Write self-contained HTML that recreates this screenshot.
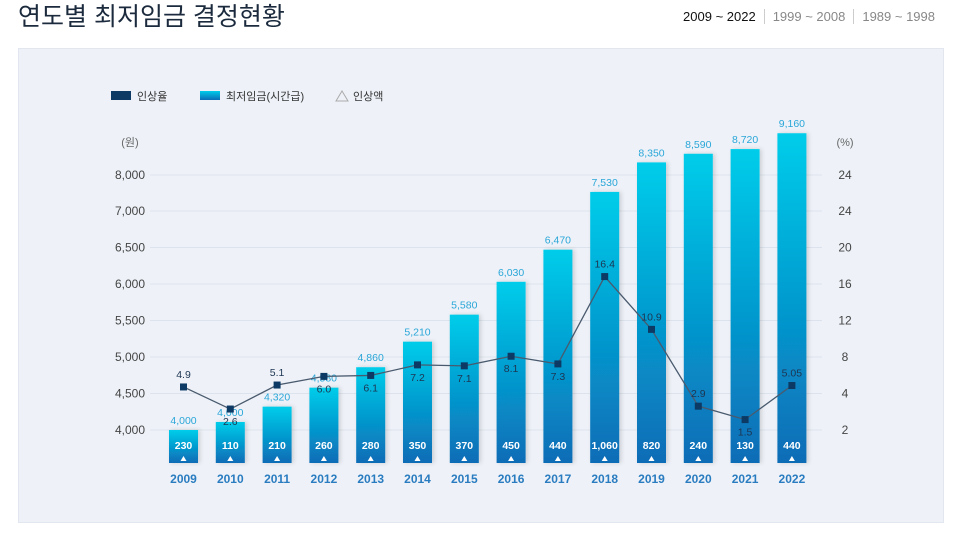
<!DOCTYPE html>
<html><head><meta charset="utf-8"><style>
body{margin:0;width:969px;height:533px;background:#fff;font-family:"Liberation Sans","Noto Sans CJK KR",sans-serif;overflow:hidden;position:relative}
.title{position:absolute;left:18px;top:0;font-size:25px;color:#1b2a3d;line-height:34px}
.tabs{position:absolute;right:26px;top:9px;font-size:13px;color:#888}
.tabs span{padding:0 8px;border-left:1px solid #ccc}
.tabs span:first-child{border:none;color:#111}
.panel{position:absolute;left:18px;top:48px;width:924px;height:473px;background:#eef2f8;border:1px solid #e2e7ef}
svg{position:absolute;left:0;top:0}
</style></head><body>
<div class="title">연도별 최저임금 결정현황</div>
<div class="tabs"><span>2009 ~ 2022</span><span>1999 ~ 2008</span><span>1989 ~ 1998</span></div>
<div class="panel"></div>
<svg id="c" width="969" height="533">
<defs>
<linearGradient id="bg" x1="0" y1="0" x2="0" y2="1"><stop offset="0" stop-color="#00cdea"/><stop offset="1" stop-color="#0a6cb6"/></linearGradient>
<filter id="sh" x="-30%" y="-10%" width="160%" height="120%"><feDropShadow dx="2" dy="0" stdDeviation="2" flood-color="#000" flood-opacity="0.15"/></filter>
</defs>
<g font-size="11" fill="#333">
<rect x="111" y="91" width="20" height="9" fill="#0d3a64"/><text x="137" y="100">인상율</text>
<rect x="200" y="91" width="20" height="9" fill="url(#bg)"/><text x="226" y="100">최저임금(시간급)</text>
<path d="M336 101 L342 91 L348 101Z" fill="none" stroke="#aaa"/><text x="353" y="100">인상액</text>
</g>
</svg>
<script>
const years=[2009,2010,2011,2012,2013,2014,2015,2016,2017,2018,2019,2020,2021,2022];
const wages=[4000,4110,4320,4580,4860,5210,5580,6030,6470,7530,8350,8590,8720,9160];
const wageLabels=["4,000","4,000","4,320","4,580","4,860","5,210","5,580","6,030","6,470","7,530","8,350","8,590","8,720","9,160"];
const increases=[230,110,210,260,280,350,370,450,440,1060,820,240,130,440];
const rates=[4.9,2.6,5.1,6.0,6.1,7.2,7.1,8.1,7.3,16.4,10.9,2.9,1.5,5.05];
const rateLabels=["4.9","2.6","5.1","6.0","6.1","7.2","7.1","8.1","7.3","16.4","10.9","2.9","1.5","5.05"];
const rateAbove=[1,0,1,0,0,0,0,0,0,1,1,1,0,1];
const leftTicks=[4000,4500,5000,5500,6000,6500,7000,8000];
const leftTickLabels=["4,000","4,500","5,000","5,500","6,000","6,500","7,000","8,000"];
const rightTickLabels=["2","4","8","12","16","20","24","24"];
const NS="http://www.w3.org/2000/svg",svg=document.getElementById('c');
function mk(t,a,p){const e=document.createElementNS(NS,t);for(const k in a)e.setAttribute(k,a[k]);(p||svg).appendChild(e);return e;}
function x(i){return 183.5+i*46.8;}
function yW(v){return v<=7000?430-(v-4000)*0.073:211-(v-7000)*0.036;}
function yR(v){return 434-v*9.6;}
const base=463;
leftTicks.forEach((t,i)=>{const y=yW(t);
 const g=mk('line',{x1:150,x2:822,y1:y,y2:y,stroke:'#dde3ec'});
 const l=mk('text',{x:145,y:y+4,'text-anchor':'end','font-size':12,fill:'#444'});l.textContent=leftTickLabels[i];
 const r=mk('text',{x:845,y:y+4,'text-anchor':'middle','font-size':12,fill:'#444'});r.textContent=rightTickLabels[i];
});
let u=mk('text',{x:130,y:146,'text-anchor':'middle','font-size':11,fill:'#666'});u.textContent='(원)';
u=mk('text',{x:845,y:146,'text-anchor':'middle','font-size':11,fill:'#666'});u.textContent='(%)';
years.forEach((yr,i)=>{const cx=x(i),top=yW(wages[i]);
 const b=mk('rect',{x:cx-14.5,y:top,width:29,height:base-top,fill:'url(#bg)',filter:'url(#sh)'});
 const wl=mk('text',{x:cx,y:top-6,'text-anchor':'middle','font-size':10.5,fill:'#2aa6d8'});wl.textContent=wageLabels[i];
 const il=mk('text',{x:cx,y:449,'text-anchor':'middle','font-size':10.5,'font-weight':'bold',fill:'#fff'});il.textContent=increases[i].toLocaleString('en-US');
 const tr=mk('path',{d:`M${cx-3} 461 L${cx} 456 L${cx+3} 461Z`,fill:'#fff'});
 const xl=mk('text',{x:cx,y:483,'text-anchor':'middle','font-size':12,'font-weight':'bold',fill:'#2a7cc0'});xl.textContent=yr;
});
const pl=mk('polyline',{points:rates.map((r,i)=>x(i)+','+yR(r)).join(' '),fill:'none',stroke:'#4a5a6e','stroke-width':1.3});

rates.forEach((r,i)=>{const cx=x(i),cy=yR(r);
 const p=mk('rect',{x:cx-3.5,y:cy-3.5,width:7,height:7,fill:'#0d3a64'});
 const t=mk('text',{x:cx,y:rateAbove[i]?cy-9:cy+16,'text-anchor':'middle','font-size':10.5,fill:'#1d3552'});t.textContent=rateLabels[i];
});
</script>
</body></html>
